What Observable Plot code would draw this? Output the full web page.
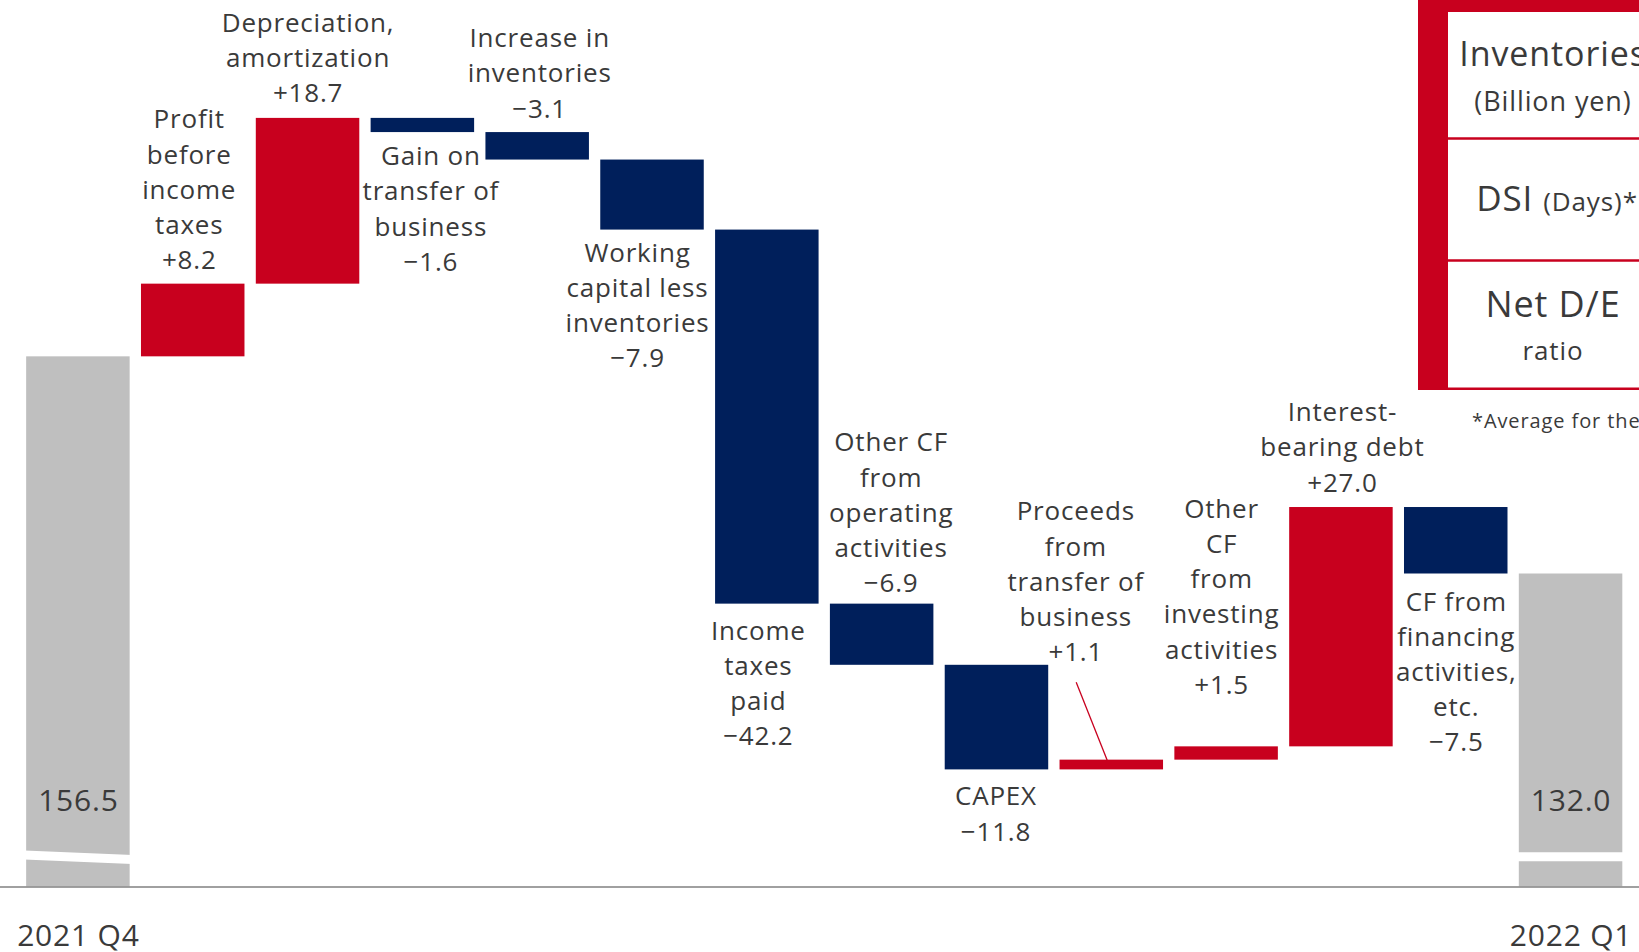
<!DOCTYPE html>
<html><head><meta charset="utf-8">
<script src="https://cdn.jsdelivr.net/npm/d3@7"></script>
<script src="https://cdn.jsdelivr.net/npm/@observablehq/plot@0.6"></script>
<style>
html,body{margin:0;padding:0;background:#fff;overflow:hidden;}
#wrap{position:relative;width:1639px;height:952px;overflow:hidden;}
#chart svg text{letter-spacing:0.8px;}
#legend{position:absolute;left:0;top:0;pointer-events:none;}
#legend text{font-family:"Open Sans",sans-serif;fill:#3a3a3a;letter-spacing:0.9px;}
</style></head><body>
<div id="wrap"><div id="chart"></div><svg id="legend" width="1639" height="952"></svg></div>
<script>
// ---- data ----
const categories = ["2021 Q4","Profit before income taxes","Depreciation, amortization","Gain on transfer of business","Increase in inventories","Working capital less inventories","Income taxes paid","Other CF from operating activities","CAPEX","Proceeds from transfer of business","Other CF from investing activities","Interest-bearing debt","CF from financing activities, etc.","2022 Q1"];
const labelText = ["","Profit\nbefore\nincome\ntaxes","Depreciation,\namortization","Gain on\ntransfer of\nbusiness","Increase in\ninventories","Working\ncapital less\ninventories","Income\ntaxes\npaid","Other CF\nfrom\noperating\nactivities","CAPEX","Proceeds\nfrom\ntransfer of\nbusiness","Other\nCF\nfrom\ninvesting\nactivities","Interest-\nbearing debt","CF from\nfinancing\nactivities,\netc.",""];
const values = [156.5, 8.2, 18.7, -1.6, -3.1, -7.9, -42.2, -6.9, -11.8, 1.1, 1.5, 27.0, -7.5, 132.0];
const kinds = ["total","delta","delta","delta","delta","delta","delta","delta","delta","delta","delta","delta","delta","total"];
const periodLabels = ["2021 Q4","2022 Q1"];
const legendRows = [["Inventories","(Billion yen)"],["DSI","(Days)*"],["Net D/E","ratio"]];
const legendNote = "*Average for the";

// ---- layout / style ----
const W = 1639, H = 952;
const axisFloor = 96.7, yTop = 196.7;
const marginBottom = 65.6;
const xDomain = [-0.6785, 13.596];
const halfBar = 0.4507;
const RED = "#c8001e", NAVY = "#001f5b", GRAY = "#bfbfbf", TEXT = "#3a3a3a";
const pxPerUnit = (H - marginBottom) / (yTop - axisFloor);
const pxPerStep = W / (xDomain[1] - xDomain[0]);
const LH = 1.354;
// per-label placement: side, gap (px) from bar, horizontal nudge (px)
const labelLayout = [null,
  ["above",15,-4],["above",16,0],["below",14,8],["above",15,2],["below",13,-15],
  ["below",17,-9],["above",12,9],["below",17,-1],["above",99,-36],["above",53,-5],
  ["above",16,1],["below",18,0], null];
const leader = {i: 9, fromDx: -0.31, toDx: -0.04, rise: 8.8};
const breaks = [{i: 0, a: 100.3, b: 99.8}, {i: 13, a: 100.1, b: 100.1}];

// ---- waterfall rows ----
let run = 0;
const rows = values.map((v, i) => {
  let y1, y2;
  if (kinds[i] === "total") { y1 = axisFloor; y2 = v; run = v; }
  else { y1 = run; y2 = run + v; run = y2; }
  const fill = kinds[i] === "total" ? GRAY : (v > 0 ? RED : NAVY);
  return {i, cat: categories[i], v, kind: kinds[i], lo: Math.min(y1, y2), hi: Math.max(y1, y2), fill};
});
const fmt = v => (v > 0 ? "+" : "\u2212") + Math.abs(v).toFixed(1);
const labels = rows.filter(r => labelLayout[r.i]).map(r => {
  const [side, gap, dx] = labelLayout[r.i];
  return {
    side,
    x: r.i + dx / pxPerStep,
    y: side === "above" ? r.hi + gap / pxPerUnit : r.lo - gap / pxPerUnit,
    text: labelText[r.i] + "\n" + fmt(r.v)
  };
});
const totals = rows.filter(r => r.kind === "total");
const totalLabels = totals.map((r, k) => ({i: r.i, value: r.v.toFixed(1), period: periodLabels[k]}));
const leaderRow = rows[leader.i];
const leaderData = [{x1: leader.i + leader.fromDx, y1: leaderRow.hi + leader.rise, x2: leader.i + leader.toDx, y2: leaderRow.hi}];
const breakPts = breaks.flatMap(b => [{i: b.i, x: b.i - halfBar - 0.02, y: b.a}, {i: b.i, x: b.i + halfBar + 0.02, y: b.b}]);

const FONT = "Open Sans";
const topShift = 26 * (0.714 - 0.71 * LH);
const chart = Plot.plot({
  width: W, height: H,
  marginTop: 0, marginBottom, marginLeft: 0, marginRight: 0,
  style: {fontFamily: FONT, background: "#fff", color: TEXT},
  x: {domain: xDomain, axis: null},
  y: {domain: [axisFloor, yTop], axis: null},
  marks: [
    Plot.rect(rows, {x1: d => d.i - halfBar, x2: d => d.i + halfBar, y1: "lo", y2: "hi", fill: "fill"}),
    Plot.line(breakPts, {x: "x", y: "y", z: "i", stroke: "#fff", strokeWidth: 9}),
    Plot.ruleY([axisFloor], {stroke: "#808080", strokeWidth: 1.5}),
    Plot.link(leaderData, {x1: "x1", y1: "y1", x2: "x2", y2: "y2", stroke: RED, strokeWidth: 1.3}),
    Plot.text(labels.filter(d => d.side === "above"), {x: "x", y: "y", text: "text", lineAnchor: "bottom", lineHeight: LH, fontSize: 26, fill: TEXT, fontFamily: FONT}),
    Plot.text(labels.filter(d => d.side === "below"), {x: "x", y: "y", text: "text", lineAnchor: "top", lineHeight: LH, dy: topShift, fontSize: 26, fill: TEXT, fontFamily: FONT}),
    Plot.text(totalLabels, {x: "i", y: () => axisFloor, text: "value", lineAnchor: "bottom", dy: -76.3, fontSize: 30, fill: TEXT, fontFamily: FONT}),
    Plot.text(totalLabels, {x: "i", y: () => axisFloor, text: "period", lineAnchor: "bottom", dy: 58.6, fontSize: 30, fill: TEXT, fontFamily: FONT})
  ]
});
document.getElementById("chart").appendChild(chart);

// ---- side table (decoration, clipped at the right edge as in the original) ----
const L = d3.select("#legend");
L.append("rect").attr("x", 1418).attr("y", 0).attr("width", 30).attr("height", 390).attr("fill", RED);
L.append("rect").attr("x", 1418).attr("y", 0).attr("width", 230).attr("height", 12).attr("fill", RED);
[138.5, 260.5, 388.8].forEach(y => L.append("line").attr("x1", 1448).attr("x2", 1660).attr("y1", y).attr("y2", y).attr("stroke", RED).attr("stroke-width", 2.5));
const cx = 1553;
L.append("text").attr("x", cx).attr("y", 66).attr("text-anchor", "middle").attr("font-size", 34).text(legendRows[0][0]);
L.append("text").attr("x", cx).attr("y", 111).attr("text-anchor", "middle").attr("font-size", 27).text(legendRows[0][1]);
const t2 = L.append("text").attr("x", cx + 4).attr("y", 211).attr("text-anchor", "middle");
t2.append("tspan").attr("font-size", 35).text(legendRows[1][0] + " ");
t2.append("tspan").attr("font-size", 26).text(legendRows[1][1]);
L.append("text").attr("x", cx).attr("y", 317).attr("text-anchor", "middle").attr("font-size", 36).text(legendRows[2][0]);
L.append("text").attr("x", cx).attr("y", 360).attr("text-anchor", "middle").attr("font-size", 26).text(legendRows[2][1]);
L.append("text").attr("x", 1472).attr("y", 428).attr("font-size", 20).text(legendNote);
</script>
</body></html>
